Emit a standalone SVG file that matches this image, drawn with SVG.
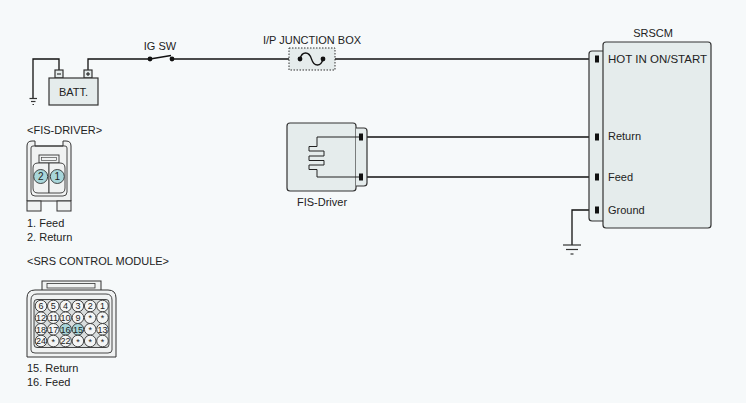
<svg xmlns="http://www.w3.org/2000/svg" width="746" height="403" viewBox="0 0 746 403">
<style>
text{font-family:"Liberation Sans",Arial,sans-serif;font-size:11px;fill:#222}
.box{fill:#e5ecec;stroke:#333;stroke-width:1.2}
.wire{fill:none;stroke:#111;stroke-width:1.3}
.pin{fill:#111}
.dot{fill:#111}
.gnd{stroke:#333;stroke-width:1.2}
.cv{fill:#f0f2f2;stroke:#333;stroke-width:1}
.cp{fill:#f4f5f5;stroke:#333;stroke-width:0.9}
.cph{fill:#a8d6da;stroke:#333;stroke-width:0.9}
.pn{font-size:9px;text-anchor:middle;fill:#222}
</style>
<rect width="746" height="403" fill="#f6f9fa"/>

<g id="connectors">
  <path class="wire" d="M88,70 V59 H150"/>
  <path class="wire" d="M150,59 L171,55.5"/>
  <path class="wire" d="M172,59 H300"/>
  <path class="wire" d="M300,59 C302,51 309,51 311.5,59 C314,67 321,67 323,59"/>
  <path class="wire" d="M323,59 H595"/>
  <path class="wire" d="M59,70 V59 H33 V98"/>
  <path class="wire" d="M363,137 H595"/>
  <path class="wire" d="M363,177 H595"/>
  <path class="wire" d="M595,210 H572 V245"/>
</g>

<g id="ground-batt">
  <line class="gnd" x1="29.5" y1="98.5" x2="37" y2="98.5"/>
  <line class="gnd" x1="31" y1="101.5" x2="35.5" y2="101.5"/>
  <line class="gnd" x1="32.5" y1="104.5" x2="34" y2="104.5"/>
</g>

<g id="ground-srscm">
  <line class="gnd" x1="563" y1="245" x2="581" y2="245"/>
  <line class="gnd" x1="566" y1="249.5" x2="578" y2="249.5"/>
  <line class="gnd" x1="570.5" y1="254" x2="573.5" y2="254"/>
</g>

<g id="battery">
  <rect class="box" x="55" y="70" width="8" height="8" fill="#f6f9fa"/>
  <rect class="box" x="84" y="70" width="8" height="8"/>
  <line x1="57" y1="74" x2="61" y2="74" stroke="#111" stroke-width="1"/>
  <line x1="86" y1="74" x2="90" y2="74" stroke="#111" stroke-width="1"/>
  <line x1="88" y1="72" x2="88" y2="76" stroke="#111" stroke-width="1"/>
  <rect class="box" x="49" y="78" width="49" height="27"/>
  <text x="73.5" y="96" text-anchor="middle">BATT.</text>
</g>

<g id="ig-sw">
  <circle class="dot" cx="150" cy="59" r="2.4"/>
  <circle class="dot" cx="172" cy="59" r="2.4"/>
  <text x="160" y="50" text-anchor="middle">IG SW</text>
</g>

<g id="junction-box">
  <rect x="289" y="48" width="46" height="22" fill="#e5ecec" stroke="#333" stroke-width="1" stroke-dasharray="1.5,1.5"/>
  <path class="wire" d="M300,59 C302,51 309,51 311.5,59 C314,67 321,67 323,59"/>
  <circle class="dot" cx="300" cy="59" r="2.4"/>
  <circle class="dot" cx="323" cy="59" r="2.4"/>
  <text x="312" y="43.5" text-anchor="middle">I/P JUNCTION BOX</text>
</g>

<g id="srscm">
  <path class="box" d="M603,51 H592 Q589,51 589,54 V218 Q589,221 592,221 H603"/>
  <rect class="box" x="603" y="42" width="108" height="186" rx="3" stroke="#444" stroke-width="1.4"/>
  <rect class="pin" x="595" y="55.5" width="4" height="7"/>
  <rect class="pin" x="595" y="133.5" width="4" height="7"/>
  <rect class="pin" x="595" y="173.5" width="4" height="7"/>
  <rect class="pin" x="595" y="206.5" width="4" height="7"/>
  <text x="653" y="37" text-anchor="middle">SRSCM</text>
  <text x="608" y="63" textLength="99" lengthAdjust="spacingAndGlyphs">HOT IN ON/START</text>
  <text x="608" y="140">Return</text>
  <text x="608" y="181">Feed</text>
  <text x="608" y="214">Ground</text>
</g>

<g id="fis-driver">
  <rect class="box" x="287" y="123" width="69" height="68" rx="3"/>
  <path class="box" d="M356,128 H364 Q367,128 367,131 V183 Q367,186 364,186 H356"/>
  <path fill="none" stroke="#222" stroke-width="1" d="M363,137 H317 V146.5 H309 V151 H324 V156 H309 V160.5 H324 V165 H309 V169.5 H317 V177 H363"/>
  <rect class="pin" x="359" y="133.5" width="4" height="7"/>
  <rect class="pin" x="359" y="173.5" width="4" height="7"/>
  <text x="322" y="206" text-anchor="middle">FIS-Driver</text>
</g>

<g id="fis-connector-view">
  <text x="27" y="134">&lt;FIS-DRIVER&gt;</text>
  <path class="cv" d="M27,146 Q27,141 32,141 H35 V146 H63 V141 H66 Q71,141 71,146 V201 H27 Z"/>
  <path fill="none" stroke="#333" stroke-width="0.9" d="M31,148 Q31,146 33,146 H65 Q67,146 67,148 V192 Q67,196 63,196 H35 Q31,196 31,192 Z"/>
  <rect x="39" y="155" width="20" height="8" fill="#f0f2f2" stroke="#333" stroke-width="0.9"/>
  <rect x="41.5" y="157.5" width="15" height="3" fill="none" stroke="#333" stroke-width="0.6"/>
  <path fill="#f0f2f2" stroke="#333" stroke-width="0.9" d="M33,168 Q33,163 38,163 H49 V193 H38 Q33,193 33,188 Z"/>
  <path fill="#f0f2f2" stroke="#333" stroke-width="0.9" d="M65,168 Q65,163 60,163 H49 V193 H60 Q65,193 65,188 Z"/>
  <circle class="cph" cx="40.7" cy="176.5" r="7"/>
  <circle class="cph" cx="57.3" cy="176.5" r="7"/>
  <text class="pn" x="40.7" y="180" style="font-size:10px">2</text>
  <text class="pn" x="57.3" y="180" style="font-size:10px">1</text>
  <rect class="cv" x="27" y="201" width="14" height="10"/>
  <rect class="cv" x="57" y="201" width="14" height="10"/>
  <text x="27" y="227">1. Feed</text>
  <text x="27" y="241">2. Return</text>
</g>

<g id="srs-connector-view">
  <text x="27" y="265">&lt;SRS CONTROL MODULE&gt;</text>
  <rect class="cv" x="42" y="281" width="59" height="11"/>
  <rect x="47" y="283.5" width="48" height="4.5" fill="none" stroke="#333" stroke-width="0.8"/>
  <path class="cv" d="M27,298 Q27,290 35,290 H108 Q116,290 116,298 V357 H27 Z"/>
  <path fill="none" stroke="#333" stroke-width="0.9" d="M31,300 Q31,294 37,294 H106 Q112,294 112,300 V350 Q112,353 108,353 H35 Q31,353 31,350 Z"/>
  <rect x="34" y="299.5" width="75" height="48" rx="3" fill="#d9dddd" stroke="#333" stroke-width="0.9"/>
  <g>
    <circle class="cp" cx="41" cy="306" r="5.8"/><text class="pn" x="41" y="309.2">6</text>
    <circle class="cp" cx="53.3" cy="306" r="5.8"/><text class="pn" x="53.3" y="309.2">5</text>
    <circle class="cp" cx="65.6" cy="306" r="5.8"/><text class="pn" x="65.6" y="309.2">4</text>
    <circle class="cp" cx="77.9" cy="306" r="5.8"/><text class="pn" x="77.9" y="309.2">3</text>
    <circle class="cp" cx="90.2" cy="306" r="5.8"/><text class="pn" x="90.2" y="309.2">2</text>
    <circle class="cp" cx="102.5" cy="306" r="5.8"/><text class="pn" x="102.5" y="309.2">1</text>

    <circle class="cp" cx="41" cy="317.7" r="5.8"/><text class="pn" x="41" y="320.9">12</text>
    <circle class="cp" cx="53.3" cy="317.7" r="5.8"/><text class="pn" x="53.3" y="320.9">11</text>
    <circle class="cp" cx="65.6" cy="317.7" r="5.8"/><text class="pn" x="65.6" y="320.9">10</text>
    <circle class="cp" cx="77.9" cy="317.7" r="5.8"/><text class="pn" x="77.9" y="320.9">9</text>
    <circle class="cp" cx="90.2" cy="317.7" r="5.8"/><text class="pn" x="90.2" y="321.4">*</text>
    <circle class="cp" cx="102.5" cy="317.7" r="5.8"/><text class="pn" x="102.5" y="321.4">*</text>

    <circle class="cp" cx="41" cy="329.3" r="5.8"/><text class="pn" x="41" y="332.5">18</text>
    <circle class="cp" cx="53.3" cy="329.3" r="5.8"/><text class="pn" x="53.3" y="332.5">17</text>
    <circle class="cph" cx="65.6" cy="329.3" r="5.8"/><text class="pn" x="65.6" y="332.5">16</text>
    <circle class="cph" cx="77.9" cy="329.3" r="5.8"/><text class="pn" x="77.9" y="332.5">15</text>
    <circle class="cp" cx="90.2" cy="329.3" r="5.8"/><text class="pn" x="90.2" y="333">*</text>
    <circle class="cp" cx="102.5" cy="329.3" r="5.8"/><text class="pn" x="102.5" y="332.5">13</text>

    <circle class="cp" cx="41" cy="341" r="5.8"/><text class="pn" x="41" y="344.2">24</text>
    <circle class="cp" cx="53.3" cy="341" r="5.8"/><text class="pn" x="53.3" y="344.7">*</text>
    <circle class="cp" cx="65.6" cy="341" r="5.8"/><text class="pn" x="65.6" y="344.2">22</text>
    <circle class="cp" cx="77.9" cy="341" r="5.8"/><text class="pn" x="77.9" y="344.7">*</text>
    <circle class="cp" cx="90.2" cy="341" r="5.8"/><text class="pn" x="90.2" y="344.7">*</text>
    <circle class="cp" cx="102.5" cy="341" r="5.8"/><text class="pn" x="102.5" y="344.7">*</text>
  </g>
  <text x="27" y="372">15. Return</text>
  <text x="27" y="386">16. Feed</text>
</g>
</svg>
